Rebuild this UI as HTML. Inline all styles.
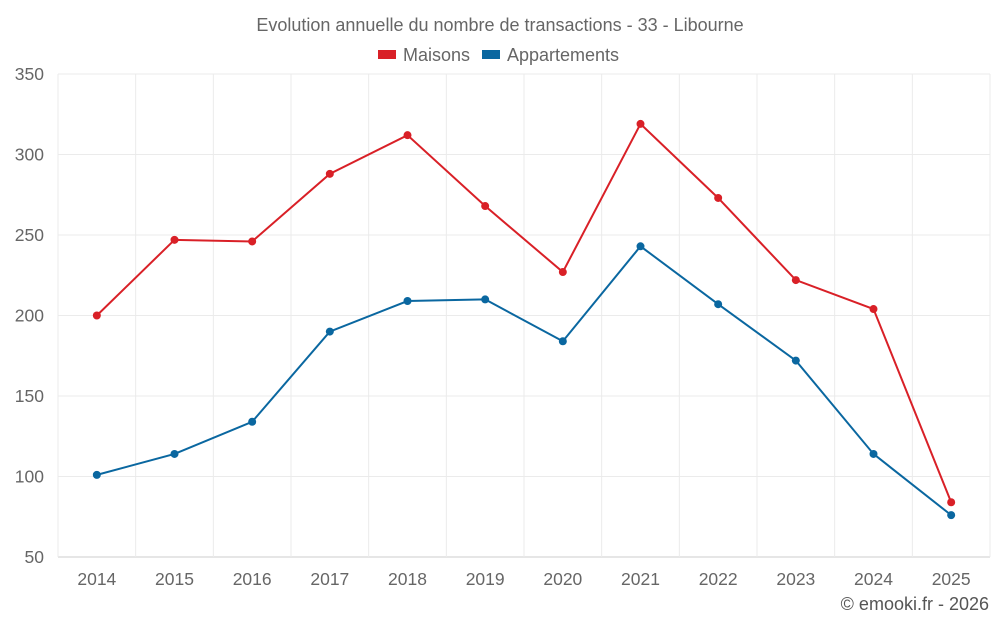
<!DOCTYPE html>
<html><head><meta charset="utf-8"><style>
body{margin:0;background:#fff;font-family:"Liberation Sans",sans-serif;}
svg text{font-family:"Liberation Sans",sans-serif;fill:#666;}
</style></head><body>
<svg id="chart" width="1000" height="625" xmlns="http://www.w3.org/2000/svg">
<text x="500" y="31" text-anchor="middle" font-size="18">Evolution annuelle du nombre de transactions - 33 - Libourne</text>
<g>
<g><rect x="378" y="50" width="18" height="9" fill="#d92027"/><text x="403" y="61" font-size="18">Maisons</text></g>
<g><rect x="482" y="50" width="18" height="9" fill="#0a67a0"/><text x="507" y="61" font-size="18">Appartements</text></g>
</g>
<g id="grid"></g>
<g id="axes"></g>
<g id="series"></g>
<text x="989" y="610" text-anchor="end" font-size="18" style="fill:#555">© emooki.fr - 2026</text>
</svg>
<script>
const categories=["2014","2015","2016","2017","2018","2019","2020","2021","2022","2023","2024","2025"];
const maisons=[200,247,246,288,312,268,227,319,273,222,204,84];
const appartements=[101,114,134,190,209,210,184,243,207,172,114,76];
const yTicks=[50,100,150,200,250,300,350];
const NS="http://www.w3.org/2000/svg";
const L=58,R=990,T=74,B=557,yMin=50,yMax=350;
const bw=(R-L)/categories.length;
const x=i=>L+bw*(i+0.5);
const y=v=>B-(v-yMin)/(yMax-yMin)*(B-T);
function mk(tag,a,parent){const e=document.createElementNS(NS,tag);for(const k in a)e.setAttribute(k,a[k]);parent.appendChild(e);return e;}
const grid=document.getElementById('grid'),axes=document.getElementById('axes'),ser=document.getElementById('series');
yTicks.forEach(t=>{
 const l=mk('line',{x1:L,x2:R,y1:y(t),y2:y(t),stroke:t===yMin?'#ccc':'#ebebeb'},grid);
 
 
 const tx=mk('text',{x:44,y:y(t)+6,'text-anchor':'end','font-size':17.5},axes);tx.textContent=t;
 
 
});
for(let i=0;i<=categories.length;i++){
 const l=mk('line',{x1:L+bw*i,x2:L+bw*i,y1:T,y2:B,stroke:'#ebebeb'},grid);
 
 
}
categories.forEach((c,i)=>{
 const tx=mk('text',{x:x(i),y:585,'text-anchor':'middle','font-size':17.5},axes);tx.textContent=c;
 
 
});
function series(vals,color,name){
 const p=mk('polyline',{points:vals.map((v,i)=>x(i)+','+y(v)).join(' '),fill:'none',stroke:color,'stroke-width':2},ser);
 
 
 vals.forEach((v,i)=>{
  const c=mk('circle',{cx:x(i),cy:y(v),r:4,fill:color},ser);
  
  
 });
}
series(maisons,'#d92027','maisons');
series(appartements,'#0a67a0','appartements');
</script>
</body></html>
